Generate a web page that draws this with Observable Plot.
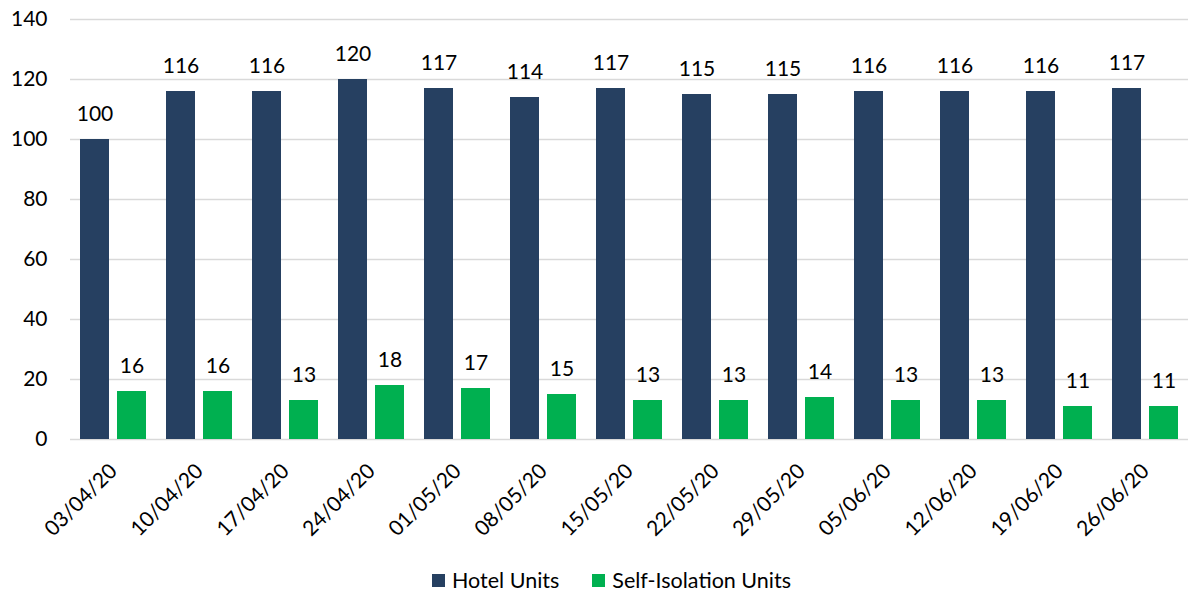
<!DOCTYPE html>
<html><head><meta charset="utf-8">
<script src="https://cdn.jsdelivr.net/npm/d3@7"></script>
<script src="https://cdn.jsdelivr.net/npm/@observablehq/plot@0.6"></script>
<style>
body{margin:0;background:#fff;font-family:Lato,"Open Sans",sans-serif;width:1188px;height:592px;position:relative;overflow:hidden;}
#legend{position:absolute;left:432px;top:565px;height:30px;display:flex;align-items:center;font-size:21.5px;color:#000;}
#legend .item{display:flex;align-items:center;margin-right:33px;}
#legend .sw{width:13px;height:13px;margin-right:7px;}
</style></head><body><div id="chart"></div><div id="legend"></div>
<script>
const dates = ["03/04/20","10/04/20","17/04/20","24/04/20","01/05/20","08/05/20","15/05/20","22/05/20","29/05/20","05/06/20","12/06/20","19/06/20","26/06/20"];
const seriesNames = ["Hotel Units","Self-Isolation Units"];
const hotelUnits = [100,116,116,120,117,114,117,115,115,116,116,116,117];
const selfIsolationUnits = [16,16,13,18,17,15,13,13,14,13,13,11,11];
const colors = ["#264061","#00B050"];
const yTicks = [0,20,40,60,80,100,120,140];

const data = dates.flatMap((d,i)=>[
  {date:d, series:seriesNames[0], value:hotelUnits[i]},
  {date:d, series:seriesNames[1], value:selfIsolationUnits[i]}
]);

const chart = Plot.plot({
  width:1188, height:555, marginLeft:69, marginRight:0, marginTop:19, marginBottom:116,
  style:{fontFamily:"Lato, 'Open Sans', sans-serif", fontSize:"21px", color:"#000", background:"#fff"},
  fx:{domain:dates, padding:0, label:null, tickRotate:-45, tickSize:0, tickPadding:28},
  x:{domain:seriesNames, paddingInner:0.216, paddingOuter:0.27, axis:null},
  y:{domain:[0,140], ticks:yTicks, label:null, tickSize:0, tickPadding:23},
  color:{domain:seriesNames, range:colors},
  marks:[
    Plot.ruleY(yTicks,{stroke:"#d9d9d9", strokeWidth:1.5}),
    Plot.barY(data,{fx:"date", x:"series", y:"value", fill:"series"}),
    Plot.text(data,{fx:"date", x:"series", y:"value", text:d=>String(d.value), lineAnchor:"bottom", dy:-19, fontSize:21, fill:"#000"})
  ]
});
document.getElementById("chart").appendChild(chart);

const legend = document.getElementById("legend");
seriesNames.forEach((s,i)=>{
  const it = document.createElement("div"); it.className="item";
  const sw = document.createElement("div"); sw.className="sw"; sw.style.background=colors[i];
  const lb = document.createElement("span"); lb.textContent=s;
  it.appendChild(sw); it.appendChild(lb); legend.appendChild(it);
});
</script></body></html>
